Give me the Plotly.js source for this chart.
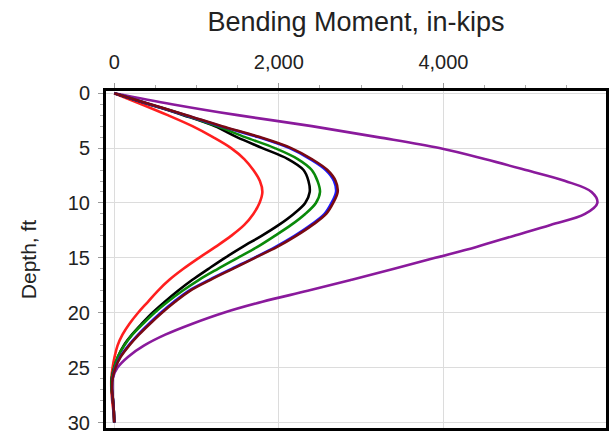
<!DOCTYPE html>
<html>
<head>
<meta charset="utf-8">
<script src="https://cdn.plot.ly/plotly-3.0.1.min.js"></script>
<style>
html,body{margin:0;padding:0;background:#fff;}
#chart{width:614px;height:441px;}
</style>
</head>
<body>
<div id="chart"></div>
<script>
// Depth, ft (shared by all series)
const depth = [0,1,2,3,4,5,6,7,8,9,10,11,12,13,14,15,16,17,18,19,20,21,22,23,24,25,26,27,28,29,30];

// Bending moment, in-kips
const purpleM = [0,700,1500,2400,3200,3950,4500,5000,5480,5800,5870,5720,5300,4850,4400,3900,3400,2880,2350,1800,1330,950,620,360,170,40,-20,-25,-15,-5,0];
const redM    = [0,330,650,950,1200,1420,1580,1690,1770,1800,1765,1690,1580,1420,1230,1030,840,670,530,410,290,185,100,40,5,-20,-35,-35,-25,-10,5];
const blackM  = [0,420,840,1220,1490,1800,2110,2300,2360,2375,2320,2180,2000,1790,1560,1345,1145,950,775,615,465,335,215,115,45,0,-30,-30,-15,-5,0];
const greenM  = [0,430,860,1250,1590,1950,2230,2400,2470,2500,2450,2320,2150,1950,1740,1500,1260,1030,830,650,490,350,220,120,45,0,-30,-30,-15,-5,0];
const blueM   = [0,430,870,1290,1750,2130,2380,2570,2670,2695,2640,2555,2390,2190,1960,1700,1425,1155,905,725,565,422,290,172,74,12,-20,-25,-15,-5,0];
const maroonM = [0,440,880,1310,1770,2150,2400,2590,2690,2715,2660,2575,2410,2210,1980,1710,1440,1170,920,740,580,435,300,180,80,15,-20,-25,-15,-5,0];

const xTickVals = [0,2000,4000];
const yTickVals = [0,5,10,15,20,25,30];

function tr(x, color){
  return {x:x, y:depth, type:'scatter', mode:'lines',
    line:{color:color, width:2.6, shape:'spline', smoothing:1},
    hoverinfo:'skip', showlegend:false};
}

const data = [
  tr(purpleM,'#8a1a9c'),
  tr(redM,'#ff1f1f'),
  tr(blackM,'#000000'),
  tr(greenM,'#0a8a0a'),
  tr(blueM,'#1a1aff'),
  tr(maroonM,'#7a0a12')
];

const layout = {
  width:614, height:441,
  margin:{l:106, r:8, t:91, b:13},
  paper_bgcolor:'#ffffff', plot_bgcolor:'#ffffff',
  font:{family:'"Liberation Sans", Arial, sans-serif', color:'#222'},
  showlegend:false,
  xaxis:{
    side:'top', range:[-100,5975],
    tickvals:xTickVals, tickformat:',d',
    ticks:'outside', ticklen:5, tickcolor:'#999',
    ticklabelstandoff:6,
    tickfont:{size:20, color:'#222'},
    minor:{dtick:500, tick0:0, ticks:'outside', ticklen:3, tickcolor:'#aaa', showgrid:false},
    showgrid:true, gridcolor:'#dcdcdc', gridwidth:1,
    zeroline:false,
    showline:true, linecolor:'#000', linewidth:3, mirror:true,
    title:{text:'Bending Moment, in-kips', font:{size:27, color:'#222'}, standoff:12}
  },
  yaxis:{
    range:[30.5,-0.2],
    tickvals:yTickVals,
    ticks:'outside', ticklen:5, tickcolor:'#999',
    ticklabelstandoff:4,
    tickfont:{size:20, color:'#222'},
    minor:{dtick:1, tick0:0, ticks:'outside', ticklen:3, tickcolor:'#aaa', showgrid:false},
    showgrid:true, gridcolor:'#dcdcdc', gridwidth:1,
    zeroline:false,
    showline:true, linecolor:'#000', linewidth:3, mirror:true,
    title:{text:'Depth, ft', font:{size:21, color:'#222'}, standoff:26}
  }
};

Plotly.newPlot('chart', data, layout, {staticPlot:true, displayModeBar:false});
</script>
</body>
</html>
